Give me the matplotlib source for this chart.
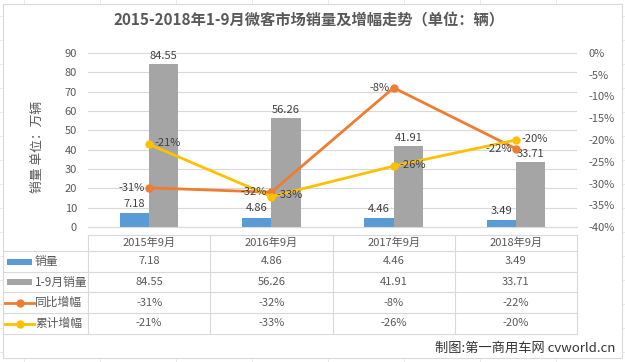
import matplotlib
matplotlib.use("Agg")
import matplotlib.pyplot as plt
from matplotlib.lines import Line2D
from matplotlib.patches import Rectangle

plt.rcParams['font.family'] = ['Noto Sans CJK SC', 'DejaVu Sans']

categories = ["2015年9月", "2016年9月", "2017年9月", "2018年9月"]
sales = [7.18, 4.86, 4.46, 3.49]
sales_ytd = [84.55, 56.26, 41.91, 33.71]
yoy = [-0.31, -0.32, -0.08, -0.22]
ytd_growth = [-0.21, -0.33, -0.26, -0.20]
series_names = ["销量", "1-9月销量", "同比增幅", "累计增幅"]
left_ticks = list(range(0, 91, 10))
right_ticks = [0, -0.05, -0.10, -0.15, -0.20, -0.25, -0.30, -0.35, -0.40]

BLUE = "#5B9BD5"
GRAY = "#A5A5A5"
ORANGE = "#ED7D31"
YELLOW = "#FFC000"
TXT = "#595959"
GRID = "#D9D9D9"

W, H = 625, 362
fig = plt.figure(figsize=(W / 100, H / 100), dpi=100)


def fx(x):
    return x / W


def fy(y):
    return 1 - y / H


# spreadsheet background grid (outside chart)
for x in range(24, W, 76):
    fig.add_artist(Line2D([fx(x), fx(x)], [0, 1], color="#E6E6E6", lw=0.6, zorder=-3))
for y in range(16, H, 24):
    fig.add_artist(Line2D([0, 1], [fy(y), fy(y)], color="#E6E6E6", lw=0.6, zorder=-3))
fig.add_artist(Rectangle((fx(3), fy(358)), fx(619), (354) / H, transform=fig.transFigure,
                         facecolor="white", edgecolor=GRID, lw=0.8, zorder=-2))

ax = fig.add_axes([fx(88), fy(227), fx(489), 174 / H])
n = len(categories)
xs = list(range(n))
bw = 0.24
ax.bar([x - bw / 2 for x in xs], sales, width=bw, color=BLUE, zorder=2)
ax.bar([x + bw / 2 for x in xs], sales_ytd, width=bw, color=GRAY, zorder=2)
ax.set_xlim(-0.5, n - 0.5)
ax.set_ylim(0, 90)
ax.set_yticks(left_ticks)
ax.yaxis.grid(True, color=GRID, lw=0.8, zorder=0)
ax.set_axisbelow(True)
ax.set_xticks([])
for s in ["top", "left", "right"]:
    ax.spines[s].set_visible(False)
ax.spines["bottom"].set_color(GRID)
ax.tick_params(axis="y", length=0, pad=8, labelsize=8, labelcolor=TXT)
ax.set_facecolor("none")

for x, v in zip(xs, sales):
    ax.annotate(f"{v:.2f}", (x - bw / 2, v), xytext=(0, 3), textcoords="offset points",
                ha="center", va="bottom", fontsize=8, color="#404040")
for x, v in zip(xs, sales_ytd):
    ax.annotate(f"{v:.2f}", (x + bw / 2, v), xytext=(0, 2), textcoords="offset points",
                ha="center", va="bottom", fontsize=8, color="#404040")

ax2 = ax.twinx()
ax2.set_ylim(-0.40, 0)
ax2.set_yticks(right_ticks)
ax2.set_yticklabels([f"{round(t * 100):d}%" for t in right_ticks])
ax2.tick_params(axis="y", length=0, pad=8, labelsize=8, labelcolor=TXT)
for s in ["top", "left", "right", "bottom"]:
    ax2.spines[s].set_visible(False)
ax2.plot(xs, yoy, color=ORANGE, lw=2, marker="o", ms=5, zorder=3)
ax2.plot(xs, ytd_growth, color=YELLOW, lw=2, marker="o", ms=5, zorder=3)
for x, v in zip(xs, yoy):
    ax2.annotate(f"{round(v * 100):d}%", (x, v), xytext=(-3, 0), textcoords="offset points",
                 ha="right", va="center", fontsize=8, color="#404040")
for x, v in zip(xs, ytd_growth):
    ax2.annotate(f"{round(v * 100):d}%", (x, v), xytext=(4, 1), textcoords="offset points",
                 ha="left", va="center", fontsize=8, color="#404040")

# y label
fig.text(fx(37), fy(147), "销量 单位：万辆", rotation=90, ha="center", va="center",
         fontsize=9.2, color=TXT)

# title
fig.text(fx(309), fy(20), "2015-2018年1-9月微客市场销量及增幅走势（单位：辆）", ha="center",
         va="center", fontsize=11, fontweight="bold", color=TXT)

# data table
tl, tr = 88, 577
colw = (tr - tl) / n
rows_y = [235, 251, 272, 292, 313, 334]
fig.add_artist(Line2D([fx(tl), fx(tr)], [fy(235), fy(235)], color=GRID, lw=0.8))
for y in rows_y[1:]:
    fig.add_artist(Line2D([fx(3), fx(tr)], [fy(y), fy(y)], color=GRID, lw=0.8))
for k in range(n + 1):
    x = tl + k * colw
    fig.add_artist(Line2D([fx(x), fx(x)], [fy(235), fy(334)], color=GRID, lw=0.8))

for k, c in enumerate(categories):
    fig.text(fx(tl + (k + 0.5) * colw), fy(243), c, ha="center", va="center", fontsize=8, color=TXT)

table_vals = [
    [f"{v:.2f}" for v in sales],
    [f"{v:.2f}" for v in sales_ytd],
    [f"{round(v * 100):d}%" for v in yoy],
    [f"{round(v * 100):d}%" for v in ytd_growth],
]
row_centers = [(rows_y[i] + rows_y[i + 1]) / 2 for i in range(1, 5)]
for r, (vals, yc) in enumerate(zip(table_vals, row_centers)):
    for k, t in enumerate(vals):
        fig.text(fx(tl + (k + 0.5) * colw), fy(yc), t, ha="center", va="center", fontsize=8, color=TXT)
    fig.text(fx(35), fy(yc), series_names[r], ha="left", va="center", fontsize=8.5, color=TXT)

# legend keys
for r, col in enumerate([BLUE, GRAY]):
    yc = row_centers[r]
    fig.add_artist(Rectangle((fx(7), fy(yc + 3)), fx(25), 6 / H, transform=fig.transFigure,
                             facecolor=col, edgecolor="none"))
for r, col in [(2, ORANGE), (3, YELLOW)]:
    yc = row_centers[r]
    fig.add_artist(Line2D([fx(5), fx(34)], [fy(yc), fy(yc)], color=col, lw=2))
    fig.add_artist(Line2D([fx(20)], [fy(yc)], color=col, marker="o", ms=5, lw=0))

# watermark
fig.text(fx(615), fy(348), "制图:第一商用车网 cvworld.cn", ha="right", va="center",
         fontsize=9.5, color="#333333")

fig.savefig("out.png", dpi=100, facecolor="white")
